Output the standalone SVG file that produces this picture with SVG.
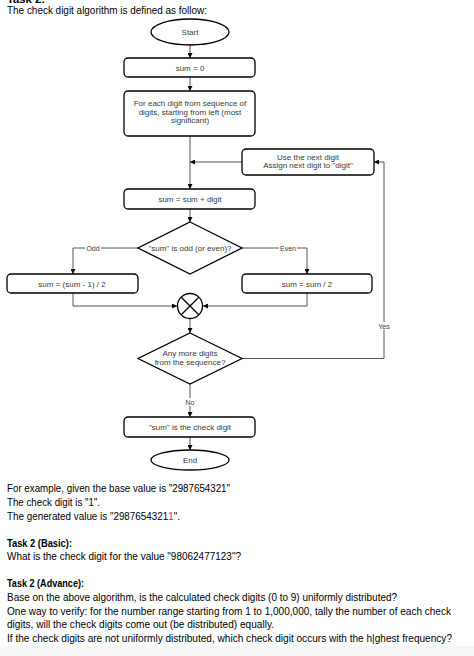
<svg xmlns="http://www.w3.org/2000/svg" width="474" height="656" viewBox="0 0 474 656">
<defs>
<marker id="ah" viewBox="0 0 10 10" refX="10" refY="5" markerWidth="5" markerHeight="5" orient="auto" markerUnits="userSpaceOnUse">
<path d="M0,0 L10,5 L0,10 Z" fill="#000"/>
</marker>
</defs>
<style>
.box{fill:#fff;stroke:#000;stroke-width:1.3}
.ft{font-family:"Liberation Sans",Arial,sans-serif;font-size:8px;fill:#3a3a3a;text-anchor:middle}
.lb{font-family:"Liberation Sans",Arial,sans-serif;font-size:7px;fill:#3a3a3a;text-anchor:middle}
.ca{fill:none;stroke:#555;stroke-width:1;marker-end:url(#ah)}
.bt{font-family:"Liberation Sans",Arial,sans-serif;font-size:10.5px;fill:#000}
.bb{font-family:"Liberation Sans",Arial,sans-serif;font-size:10.5px;fill:#000;font-weight:bold}
</style>
<rect width="474" height="656" fill="#fff"/>
<rect x="0" y="646" width="474" height="10" fill="#f6f6f6"/>

<text class="bb" x="7" y="3" textLength="38" lengthAdjust="spacingAndGlyphs">Task 2:</text>
<text class="bt" x="7" y="14" textLength="200" lengthAdjust="spacingAndGlyphs">The check digit algorithm is defined as follow:</text>

<g id="connectors">
<path class="ca" d="M190,45 V58"/>
<path class="ca" d="M190,77 V91"/>
<path class="ca" d="M190,136 V189"/>
<path class="ca" d="M242,162 H190"/>
<path class="ca" d="M190,209 V222"/>
<path class="ca" d="M138,248 H73 V274"/>
<path class="ca" d="M242,248 H307 V274"/>
<path class="ca" d="M73,293 V306 H177"/>
<path class="ca" d="M307,293 V306 H203"/>
<path class="ca" d="M190,318.5 V333"/>
<path class="ca" d="M242,358.5 H384 V162 H374"/>
<path class="ca" d="M190,384 V417"/>
<path class="ca" d="M190,437 V450"/>
<rect x="85" y="244" width="16" height="8" fill="#fff"/>
<text class="lb" x="93" y="250.5">Odd</text>
<rect x="279" y="244" width="18" height="8" fill="#fff"/>
<text class="lb" x="288" y="250.5">Even</text>
<rect x="376" y="322" width="16" height="8" fill="#fff"/>
<text class="lb" x="384" y="328.5">Yes</text>
<rect x="184" y="398" width="12" height="8" fill="#fff"/>
<text class="lb" x="190" y="404.5">No</text>
</g>

<g id="start">
<ellipse class="box" cx="190" cy="32" rx="39" ry="13"/>
<text class="ft" x="190" y="35">Start</text>
</g>
<g id="sum0">
<rect class="box" x="124" y="58" width="131" height="19" rx="4"/>
<text class="ft" x="190" y="70.5">sum = 0</text>
</g>
<g id="foreach">
<rect class="box" x="124" y="91" width="131" height="45" rx="4"/>
<text class="ft" x="190" y="106">For each digit from sequence of</text>
<text class="ft" x="190" y="114.5">digits, starting from left (most</text>
<text class="ft" x="190" y="123">significant)</text>
</g>
<g id="nextdigit">
<rect class="box" x="242" y="149" width="132" height="26" rx="4"/>
<text class="ft" x="308" y="159.5">Use the next digit</text>
<text class="ft" x="308" y="168">Assign next digit to "digit"</text>
</g>
<g id="sumdigit">
<rect class="box" x="124" y="189" width="131" height="20" rx="4"/>
<text class="ft" x="190" y="202">sum = sum + digit</text>
</g>
<g id="oddeven">
<path class="box" d="M190,222 L242,248 L190,274 L138,248 Z"/>
<text class="ft" x="190" y="251">"sum" is odd (or even)?</text>
</g>
<g id="oddbox">
<rect class="box" x="7" y="274" width="131" height="19" rx="4"/>
<text class="ft" x="72" y="286.5">sum = (sum - 1) / 2</text>
</g>
<g id="evenbox">
<rect class="box" x="242" y="274" width="130" height="19" rx="4"/>
<text class="ft" x="307" y="286.5">sum = sum / 2</text>
</g>
<g id="merge">
<circle class="box" cx="190" cy="306" r="12.5"/>
<path d="M181.2,297.2 L198.8,314.8 M198.8,297.2 L181.2,314.8" stroke="#000" stroke-width="1.3"/>
</g>
<g id="more">
<path class="box" d="M190,333 L242,358.5 L190,384 L138,358.5 Z"/>
<text class="ft" x="190" y="356">Any more digits</text>
<text class="ft" x="190" y="365">from the sequence?</text>
</g>
<g id="checkdigit">
<rect class="box" x="124" y="417" width="131" height="20" rx="4"/>
<text class="ft" x="190" y="430">"sum" is the check digit</text>
</g>
<g id="end">
<ellipse class="box" cx="190" cy="460" rx="39" ry="10"/>
<text class="ft" x="190" y="463">End</text>
</g>

<text class="bt" x="7" y="492" textLength="223" lengthAdjust="spacingAndGlyphs">For example, given the base value is "2987654321"</text>
<text class="bt" x="7" y="506" textLength="93" lengthAdjust="spacingAndGlyphs">The check digit is "1".</text>
<text class="bt" x="0" y="0" transform="translate(7,520) scale(0.939,1)">The generated value is "2987654321<tspan style="fill:#e0202a">1</tspan>".</text>
<text class="bb" x="7" y="547" textLength="65" lengthAdjust="spacingAndGlyphs">Task 2 (Basic):</text>
<text class="bt" x="7" y="560" textLength="234" lengthAdjust="spacingAndGlyphs">What is the check digit for the value "98062477123"?</text>
<text class="bb" x="7" y="587" textLength="77" lengthAdjust="spacingAndGlyphs">Task 2 (Advance):</text>
<text class="bt" x="7" y="601" textLength="390" lengthAdjust="spacingAndGlyphs">Base on the above algorithm, is the calculated check digits (0 to 9) uniformly distributed?</text>
<text class="bt" x="7" y="615" textLength="444" lengthAdjust="spacingAndGlyphs">One way to verify: for the number range starting from 1 to 1,000,000, tally the number of each check</text>
<text class="bt" x="7" y="628" textLength="267" lengthAdjust="spacingAndGlyphs">digits, will the check digits come out (be distributed) equally.</text>
<text class="bt" x="7" y="642" textLength="445" lengthAdjust="spacingAndGlyphs">If the check digits are not uniformly distributed, which check digit occurs with the h|ghest frequency?</text>
</svg>
